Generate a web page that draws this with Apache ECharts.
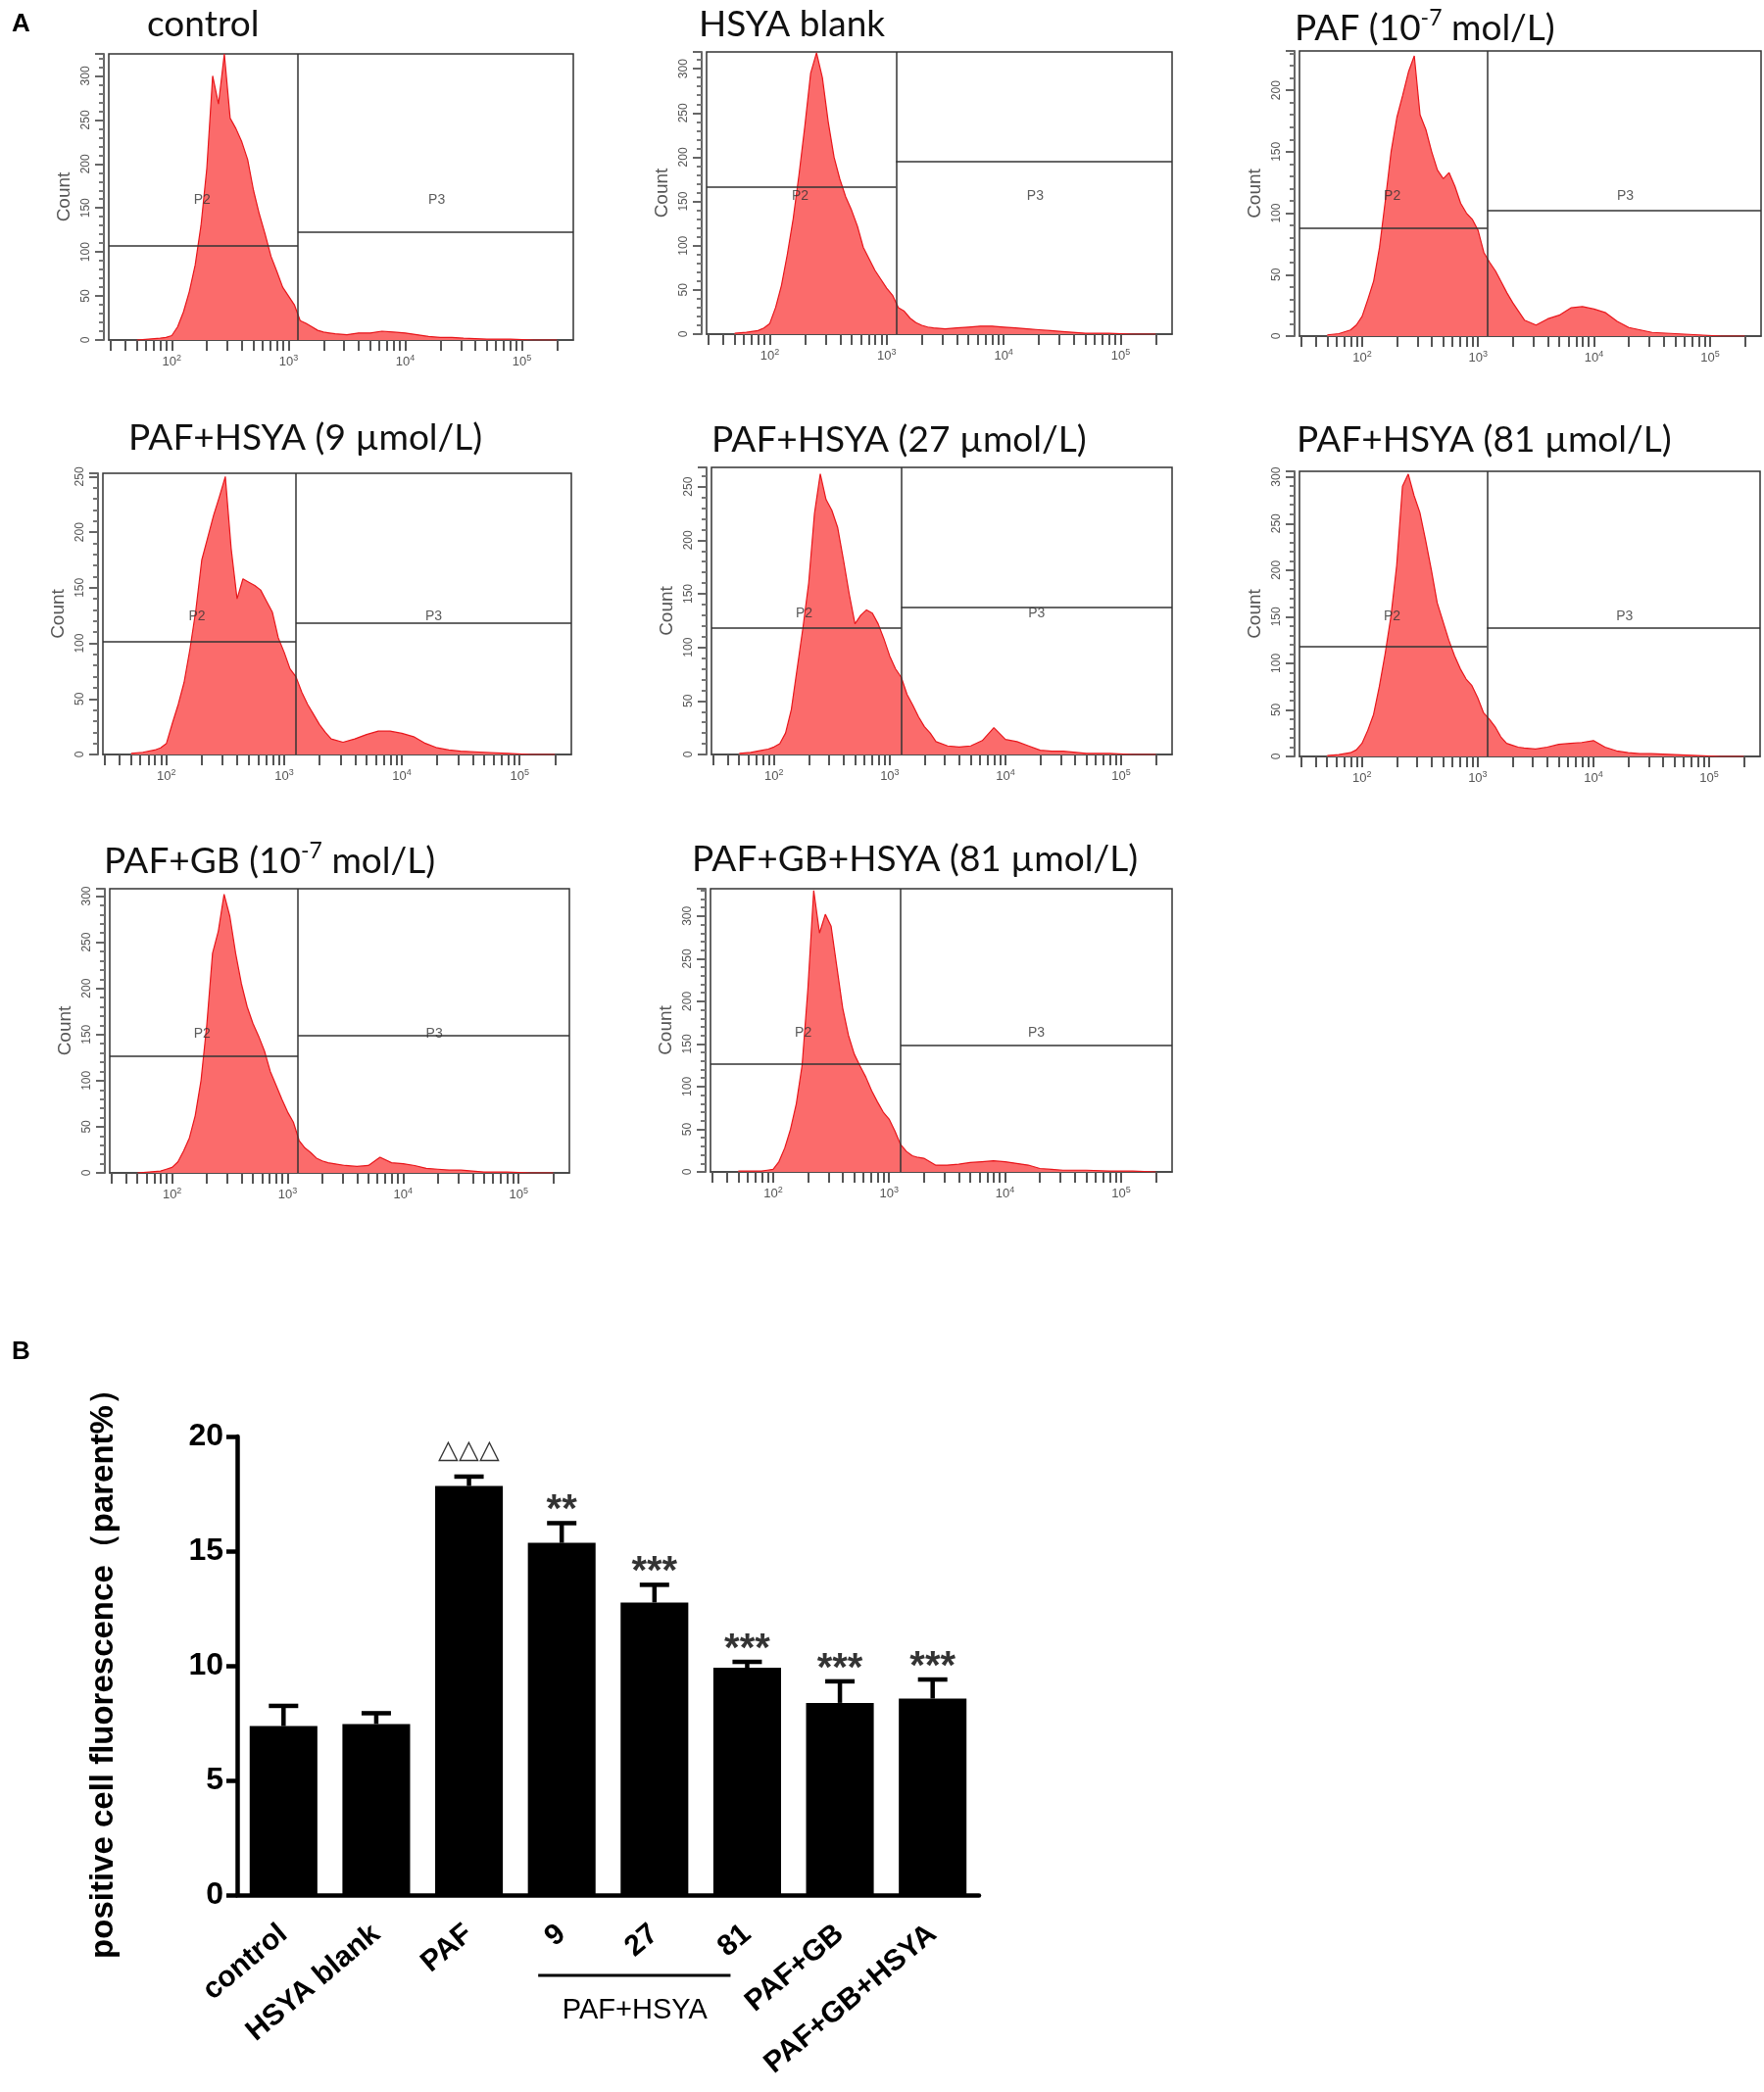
<!DOCTYPE html>
<html>
<head>
<meta charset="utf-8">
<title>HSYA flow cytometry</title>
<script src="https://cdn.jsdelivr.net/npm/echarts@6/dist/echarts.min.js"></script>
<style>
  html, body { margin: 0; padding: 0; background: #fff; }
  #chart { width: 1800px; height: 2135px; }
</style>
</head>
<body>
<div id="chart"></div>
<script>
// ---------- Panel A: histograms, x is log10(fluorescence) ----------
const binLog = [1.70, 1.80, 1.90, 1.95, 2.00, 2.05, 2.10, 2.15, 2.20, 2.25, 2.30, 2.35, 2.40, 2.45, 2.50, 2.55,
  2.60, 2.65, 2.70, 2.75, 2.80, 2.85, 2.90, 2.95, 3.00, 3.05, 3.10, 3.15, 3.20, 3.25, 3.30, 3.35, 3.40,
  3.50, 3.60, 3.70, 3.80, 3.90, 4.00, 4.10, 4.20, 4.30, 4.40, 4.50, 4.70, 4.90, 5.10, 5.30];

const histControl = [0, 1, 2, 3, 5, 15, 32, 55, 85, 130, 195, 300, 268, 325, 252, 240, 225, 205, 170, 143,
  120, 95, 78, 60, 50, 40, 22, 19, 15, 11, 9, 8, 7, 6, 8, 8, 10, 9, 8, 6, 4, 3, 3, 2, 1, 1, 0, 0];
const histHsyaBlank = [1, 2, 4, 7, 12, 30, 55, 90, 130, 180, 235, 295, 318, 290, 240, 200, 175, 155, 140, 122,
  98, 85, 72, 62, 52, 44, 30, 26, 18, 13, 10, 8, 7, 6, 7, 8, 9, 9, 8, 7, 6, 5, 4, 3, 1, 1, 0, 0];
const histPaf = [1, 2, 5, 9, 16, 30, 45, 72, 110, 150, 178, 196, 215, 228, 180, 168, 150, 135, 128, 133,
  122, 108, 100, 95, 86, 68, 60, 53, 44, 35, 27, 20, 13, 9, 14, 17, 23, 24, 22, 19, 12, 7, 5, 3, 2, 1, 0, 0];
const histHsya9 = [1, 2, 4, 6, 10, 28, 45, 65, 95, 130, 175, 195, 215, 232, 250, 185, 140, 158, 155, 152,
  148, 138, 128, 105, 92, 77, 70, 56, 45, 36, 27, 20, 14, 11, 14, 18, 21, 21, 19, 16, 10, 6, 4, 3, 2, 1, 0, 0];
const histHsya27 = [1, 2, 4, 5, 7, 10, 20, 42, 80, 118, 160, 225, 262, 238, 228, 212, 182, 150, 122, 130,
  135, 132, 122, 108, 92, 80, 72, 56, 46, 35, 26, 20, 12, 8, 7, 8, 13, 25, 14, 12, 8, 4, 3, 3, 1, 1, 0, 0];
const histHsya81 = [1, 2, 4, 7, 14, 28, 45, 75, 110, 150, 205, 290, 303, 280, 262, 232, 200, 165, 145, 125,
  108, 94, 83, 76, 63, 47, 40, 32, 21, 14, 12, 10, 9, 8, 10, 13, 14, 15, 17, 10, 6, 4, 3, 3, 2, 1, 0, 0];
const histGb = [0, 1, 2, 4, 6, 12, 24, 38, 62, 100, 160, 238, 262, 302, 278, 238, 205, 180, 162, 148,
  132, 110, 95, 80, 66, 55, 35, 27, 22, 16, 13, 11, 10, 8, 7, 8, 17, 11, 10, 8, 5, 4, 3, 3, 1, 1, 0, 0];
const histGbHsya = [1, 1, 1, 2, 3, 12, 28, 50, 80, 125, 215, 330, 280, 302, 288, 240, 192, 160, 138, 124,
  111, 95, 82, 70, 62, 48, 32, 24, 19, 17, 16, 12, 8, 8, 9, 11, 12, 13, 12, 10, 8, 4, 3, 2, 2, 1, 1, 0];

const histograms = [histControl, histHsyaBlank, histPaf, histHsya9, histHsya27, histHsya81, histGb, histGbHsya];
const panelTitles = [
  'control',
  'HSYA blank',
  'PAF (10{s|-7} mol/L)',
  'PAF+HSYA (9 µmol/L)',
  'PAF+HSYA (27 µmol/L)',
  'PAF+HSYA (81 µmol/L)',
  'PAF+GB (10{s|-7} mol/L)',
  'PAF+GB+HSYA (81 µmol/L)'
];
const countMax = [325, 319, 232, 253, 268, 306, 308, 332];
const gateP2 = [107, 166, 88, 102, 118, 118, 127, 127];
const gateP3 = [123, 195, 102, 118, 137, 138, 149, 148];
const gateSplit = [3.08, 3.08, 3.08, 3.10, 3.10, 3.08, 3.09, 3.10];
const gateLabelLog = [2.26, 4.27];
const decadeTicks = [2, 3, 4, 5];
const tickMantissa = [1, 2, 3, 4, 5, 6, 7, 8, 9];

// ---------- Panel B: bar chart ----------
const groups = ['control', 'HSYA blank', 'PAF', '9', '27', '81', 'PAF+GB', 'PAF+GB+HSYA'];
const fluorMean = [7.37, 7.46, 17.84, 15.36, 12.76, 9.91, 8.38, 8.57];
const fluorSem = [0.88, 0.47, 0.41, 0.86, 0.77, 0.26, 0.94, 0.83];
const sigMarks = ['', '', '△△△', '**', '***', '***', '***', '***'];

// ---------- layout ----------
const X_MIN = 1.46, X_MAX = 5.44;
const histBoxes = [
  { left: 111, top: 55, width: 474, height: 292 },
  { left: 721, top: 53, width: 475, height: 288 },
  { left: 1326, top: 52, width: 471, height: 291 },
  { left: 105, top: 483, width: 478, height: 287 },
  { left: 726, top: 477, width: 470, height: 293 },
  { left: 1326, top: 481, width: 470, height: 291 },
  { left: 112, top: 907, width: 469, height: 290 },
  { left: 725, top: 907, width: 471, height: 289 }
];
const titlePos = [[150, 25], [713, 25], [1321, 29], [131, 447], [726, 449], [1323, 449], [106, 879], [706, 877]];
const barBox = { left: 242, top: 1466, width: 757, height: 468 };

const FONT = '"Liberation Sans", Arial, sans-serif';
const TITLE_FONT = 'Lato, "Open Sans", sans-serif';
const FILL = '#fb6b6b';
const EDGE = '#e8161b';
const AXIS_GREY = '#666';

const minorTickLog = [];
[1, 2, 3, 4, 5].forEach(d => tickMantissa.forEach(m => {
  const v = Math.log10(m) + d;
  if (v >= X_MIN && v <= X_MAX) minorTickLog.push(v);
}));

const grids = [];
const xAxes = [];
const yAxes = [];
const series = [];

histograms.forEach((counts, i) => {
  grids.push({
    ...histBoxes[i],
    show: true,
    borderColor: '#333',
    borderWidth: 1.5,
    backgroundColor: 'transparent'
  });
  xAxes.push({
    type: 'value',
    gridIndex: i,
    min: X_MIN,
    max: X_MAX,
    axisLine: { show: true, onZero: false, lineStyle: { color: '#444', width: 1.5 } },
    axisTick: { show: true, customValues: minorTickLog, length: 11, lineStyle: { color: '#555', width: 2 } },
    axisLabel: {
      customValues: decadeTicks,
      margin: 14,
      formatter: v => '{a|10}{b|' + v + '}',
      rich: {
        a: { fontFamily: FONT, fontSize: 13, color: '#555', lineHeight: 16 },
        b: { fontFamily: FONT, fontSize: 9, color: '#555', lineHeight: 9, verticalAlign: 'top' }
      }
    },
    splitLine: { show: false }
  });
  yAxes.push({
    type: 'value',
    gridIndex: i,
    min: 0,
    max: countMax[i],
    interval: 50,
    offset: 5,
    axisLine: { show: true, lineStyle: { color: AXIS_GREY, width: 2 } },
    axisTick: { show: true, length: 9, lineStyle: { color: AXIS_GREY, width: 2 } },
    minorTick: { show: true, splitNumber: 5, length: 5, lineStyle: { color: '#777', width: 2 } },
    axisLabel: { rotate: 90, fontFamily: FONT, fontSize: 12, color: '#555', margin: 12, showMaxLabel: false },
    splitLine: { show: false },
    name: 'Count',
    nameLocation: 'middle',
    nameGap: 31,
    nameTextStyle: { fontFamily: FONT, fontSize: 19, color: '#555' }
  });
  series.push({
    type: 'line',
    xAxisIndex: i,
    yAxisIndex: i,
    data: binLog.map((x, j) => [x, counts[j]]),
    symbol: 'none',
    lineStyle: { color: EDGE, width: 1.2 },
    areaStyle: { color: FILL, opacity: 1 },
    markLine: {
      silent: true,
      symbol: 'none',
      label: { show: false },
      lineStyle: { color: '#333', width: 1.5, type: 'solid' },
      data: [
        [{ coord: [X_MIN, gateP2[i]] }, { coord: [gateSplit[i], gateP2[i]] }],
        [{ coord: [gateSplit[i], 0] }, { coord: [gateSplit[i], countMax[i]] }],
        [{ coord: [gateSplit[i], gateP3[i]] }, { coord: [X_MAX, gateP3[i]] }]
      ]
    }
  });
  // gate names P2 / P3
  series.push({
    type: 'scatter',
    xAxisIndex: i,
    yAxisIndex: i,
    silent: true,
    symbolSize: 1,
    itemStyle: { color: 'rgba(0,0,0,0)' },
    data: [
      { name: 'P2', value: [gateLabelLog[0], countMax[i] * 0.49] },
      { name: 'P3', value: [gateLabelLog[1], countMax[i] * 0.49] }
    ],
    label: { show: true, position: 'inside', formatter: '{b}', fontFamily: FONT, fontSize: 14, color: '#333' },
    z: 5
  });
});

// bar chart grid
const B = histograms.length;
grids.push({ ...barBox, show: false });
xAxes.push({
  type: 'category',
  gridIndex: B,
  data: groups,
  axisLine: { lineStyle: { color: '#000', width: 4.5 } },
  axisTick: { alignWithLabel: true, length: 13, lineStyle: { color: '#000', width: 4.5 } },
  axisLabel: {
    interval: 0, rotate: 40, margin: 36,
    fontFamily: FONT, fontSize: 30, fontWeight: 'bold', color: '#000'
  }
});
yAxes.push({
  type: 'value',
  gridIndex: B,
  min: 0,
  max: 20,
  interval: 5,
  axisLine: { show: true, lineStyle: { color: '#000', width: 4.5 } },
  axisTick: { show: true, length: 11, lineStyle: { color: '#000', width: 4.5 } },
  axisLabel: { fontFamily: FONT, fontSize: 32, fontWeight: 'bold', color: '#000', margin: 14 },
  splitLine: { show: false },
  name: 'positive cell fluorescence（parent%）',
  nameLocation: 'middle',
  nameGap: 120,
  nameTextStyle: { fontFamily: FONT, fontSize: 33, fontWeight: 'bold', color: '#000' }
});
series.push({
  type: 'bar',
  xAxisIndex: B,
  yAxisIndex: B,
  data: fluorMean,
  barWidth: '73%',
  itemStyle: { color: '#000' }
});
series.push({
  type: 'custom',
  xAxisIndex: B,
  yAxisIndex: B,
  data: fluorMean.map((m, i) => [i, m, fluorSem[i]]),
  encode: { x: 0, y: 1 },
  renderItem: (params, api) => {
    const i = api.value(0);
    const base = api.coord([i, api.value(1)]);
    const top = api.coord([i, api.value(1) + api.value(2)]);
    const half = 15;
    const st = { stroke: '#000', lineWidth: 4.5 };
    return {
      type: 'group',
      children: [
        { type: 'line', shape: { x1: base[0], y1: base[1], x2: top[0], y2: top[1] }, style: st },
        { type: 'line', shape: { x1: top[0] - half, y1: top[1], x2: top[0] + half, y2: top[1] }, style: st }
      ]
    };
  },
  z: 3
});
series.push({
  type: 'scatter',
  xAxisIndex: B,
  yAxisIndex: B,
  silent: true,
  symbolSize: 1,
  itemStyle: { color: 'rgba(0,0,0,0)' },
  data: fluorMean.map((m, i) => ({
    value: [i, m + fluorSem[i]],
    label: sigMarks[i].startsWith('△')
      ? { fontSize: 27, fontWeight: 'normal', offset: [0, -26] }
      : { fontSize: 40, fontWeight: 'bold', offset: [0, -12] }
  })),
  label: {
    show: true,
    position: 'inside',
    fontFamily: FONT,
    color: '#000',
    formatter: p => sigMarks[p.dataIndex]
  },
  z: 5
});

const chart = echarts.init(document.getElementById('chart'), null, { renderer: 'canvas' });
chart.setOption({
  animation: false,
  backgroundColor: '#fff',
  grid: grids,
  xAxis: xAxes,
  yAxis: yAxes,
  series: series
});

// titles, panel letters and the PAF+HSYA bracket
const graphics = [
  { type: 'text', x: 12, y: 25, style: { text: 'A', fontFamily: FONT, fontSize: 26, fontWeight: 'bold', fill: '#000', verticalAlign: 'middle' } },
  { type: 'text', x: 12, y: 1380, style: { text: 'B', fontFamily: FONT, fontSize: 26, fontWeight: 'bold', fill: '#000', verticalAlign: 'middle' } }
];
panelTitles.forEach((t, i) => {
  graphics.push({
    type: 'text',
    x: titlePos[i][0],
    y: titlePos[i][1],
    style: {
      text: t,
      fontFamily: TITLE_FONT,
      fontSize: 37,
      fill: '#111',
      verticalAlign: 'middle',
      lineHeight: 44,
      rich: {
        s: { fontFamily: TITLE_FONT, fontSize: 23, lineHeight: 23, verticalAlign: 'top', fill: '#111' }
      }
    }
  });
});
const x9 = chart.convertToPixel({ xAxisIndex: B }, '9');
const x81 = chart.convertToPixel({ xAxisIndex: B }, '81');
const x27 = chart.convertToPixel({ xAxisIndex: B }, '27');
graphics.push({
  type: 'line',
  shape: { x1: x9 - 24, y1: 2016, x2: x81 - 17, y2: 2016 },
  style: { stroke: '#000', lineWidth: 3 }
});
graphics.push({
  type: 'text',
  x: x27 - 20,
  y: 2052,
  style: { text: 'PAF+HSYA', fontFamily: FONT, fontSize: 29, fill: '#000', align: 'center', verticalAlign: 'middle' }
});
chart.setOption({ graphic: graphics });
</script>
</body>
</html>
